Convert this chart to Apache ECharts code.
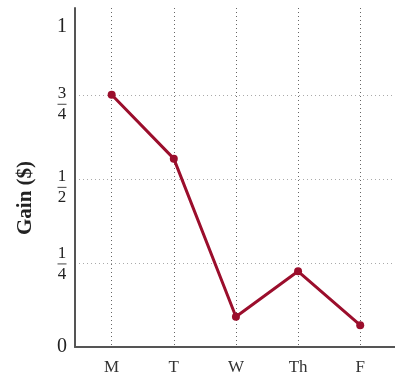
<!DOCTYPE html>
<html>
<head>
<meta charset="utf-8">
<script src="https://cdn.jsdelivr.net/npm/echarts@6/dist/echarts.min.js"></script>
<style>
html,body{margin:0;padding:0;background:#fff;}
#chart{width:395px;height:375px;}
</style>
</head>
<body>
<div id="chart"></div>
<script>
const categories = ['M', 'T', 'W', 'Th', 'F'];
const gains = [0.75, 0.56, 0.09, 0.225, 0.065];
const yTickValues = [0, 0.25, 0.5, 0.75, 1];
const yTickLabels = ['0', '1/4', '1/2', '3/4', '1'];
const yGridValues = [0.25, 0.5, 0.75];

const serif = '"Liberation Serif", "DejaVu Serif", serif';
const catIndex = categories.map((c, i) => i);
const spacerStyle = ['s0', 'sc', 'sb', 'sa', 's1'];

const chart = echarts.init(document.getElementById('chart'));
chart.setOption({
  animation: false,
  backgroundColor: '#fff',
  grid: { left: 75, right: 0, top: 8, bottom: 28, outerBoundsMode: 'none' },
  xAxis: {
    type: 'value',
    min: -0.59,
    max: 4.56,
    axisLine: { show: true, onZero: false, lineStyle: { color: '#555', width: 2 } },
    axisTick: { show: false, customValues: catIndex },
    axisLabel: {
      customValues: catIndex,
      formatter: v => categories[v],
      margin: 12,
      fontFamily: serif,
      fontSize: 17,
      color: '#333'
    },
    splitLine: { show: true, lineStyle: { color: '#666', width: 1, type: [1, 3] } }
  },
  yAxis: {
    type: 'value',
    min: 0,
    max: 1.008,
    axisLine: { show: true, onZero: false, lineStyle: { color: '#555', width: 2 } },
    axisTick: { show: false, customValues: yGridValues },
    splitLine: { show: true, lineStyle: { color: '#aaa', width: 1, type: [1, 3] } },
    axisLabel: {
      customValues: yTickValues,
      align: 'center',
      margin: 13,
      color: '#222',
      fontFamily: serif,
      formatter: v => {
        const i = yTickValues.indexOf(v);
        const t = yTickLabels[i];
        const s = spacerStyle[i];
        if (t.indexOf('/') >= 0) {
          const p = t.split('/');
          return '{' + s + '| }\n{n|' + p[0] + '}\n{b| }\n{n|' + p[1] + '}';
        }
        if (v === 1) return '{' + s + '| }\n{w|' + t + '}';
        return '{w|' + t + '}';
      },
      rich: {
        sa: { fontSize: 1, lineHeight: 19 },
        sb: { fontSize: 1, lineHeight: 17 },
        sc: { fontSize: 1, lineHeight: 2 },
        s1: { fontSize: 1, lineHeight: 32 },
        n: { fontSize: 17, lineHeight: 17, fontFamily: serif, color: '#222' },
        b: { fontSize: 1, lineHeight: 4, width: 9, height: 1, backgroundColor: '#444' },
        w: { fontSize: 20, lineHeight: 20, fontFamily: serif, color: '#222' }
      }
    }
  },
  graphic: [{
    type: 'text',
    x: 26, y: 198,
    rotation: Math.PI / 2,
    style: {
      text: 'Gain ($)',
      font: 'bold 21px ' + serif,
      fill: '#222',
      align: 'center',
      verticalAlign: 'middle'
    }
  }],
  series: [{
    type: 'line',
    data: gains.map((g, i) => [i, g]),
    symbol: 'circle',
    symbolSize: 8,
    itemStyle: { color: '#9b0e2c' },
    lineStyle: { color: '#9b0e2c', width: 3 }
  }]
});
</script>
</body>
</html>
